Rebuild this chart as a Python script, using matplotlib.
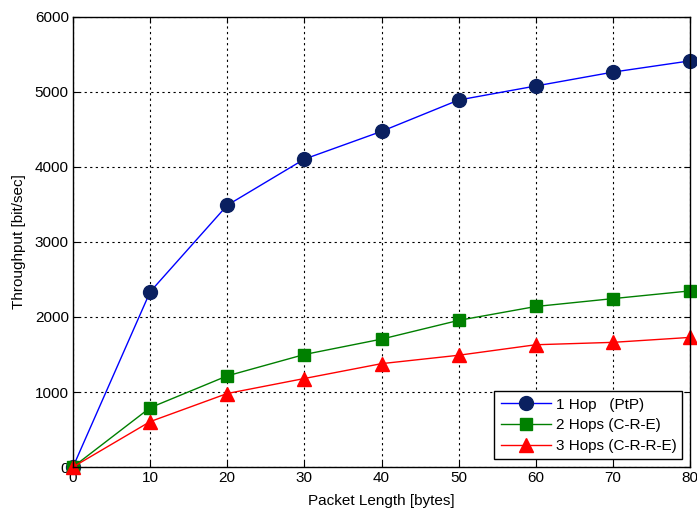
import matplotlib
matplotlib.use("Agg")
import matplotlib.pyplot as plt

packet_len = [0, 10, 20, 30, 40, 50, 60, 70, 80]
hop1 = [0, 2335, 3490, 4105, 4475, 4893, 5080, 5265, 5415]
hop2 = [0, 790, 1215, 1500, 1705, 1955, 2140, 2245, 2348]
hop3 = [0, 605, 980, 1180, 1378, 1490, 1630, 1662, 1728]
labels = ["1 Hop   (PtP)", "2 Hops (C-R-E)", "3 Hops (C-R-R-E)"]
xticks = [0, 10, 20, 30, 40, 50, 60, 70, 80]
yticks = [0, 1000, 2000, 3000, 4000, 5000, 6000]

plt.rcParams['font.family'] = ['Liberation Sans', 'DejaVu Sans']
fig = plt.figure(figsize=(6.97, 5.15), dpi=100)
ax = fig.add_axes([0.1047, 0.0932, 0.8853, 0.8738])

ax.plot(packet_len, hop1, color='#0000ff', lw=1, marker='o', ms=10,
        mfc='#0a2060', mec='#0a2060', label=labels[0])
ax.plot(packet_len, hop2, color='#007f00', lw=1, marker='s', ms=9,
        mfc='#008000', mec='#008000', label=labels[1])
ax.plot(packet_len, hop3, color='#ff0000', lw=1, marker='^', ms=10,
        mfc='#ff0000', mec='#ff0000', label=labels[2])

ax.set_xlim(0, 80)
ax.set_ylim(0, 6000)
ax.set_xticks(xticks)
ax.set_yticks(yticks)
ax.tick_params(direction='in', labelsize=11, length=4, top=True, right=True,
               labeltop=False, labelright=False, pad=3)
ax.grid(True, color='black', linestyle=(0, (2, 3)), linewidth=0.8)
for s in ax.spines.values():
    s.set_linewidth(1)
    s.set_color('black')
for m in ax.get_lines():
    m.set_clip_on(False)

ax.set_xlabel('Packet Length [bytes]', fontsize=11, labelpad=6)
ax.set_ylabel('Throughput [bit/sec]', fontsize=11, labelpad=6)

leg = ax.legend(loc='lower right', fontsize=11, fancybox=False, framealpha=1,
                edgecolor='black', borderaxespad=0.5, handlelength=3.3,
                handletextpad=0.3, labelspacing=0.45, borderpad=0.4)
leg.get_frame().set_linewidth(1)

fig.savefig('out.png', dpi=100)
